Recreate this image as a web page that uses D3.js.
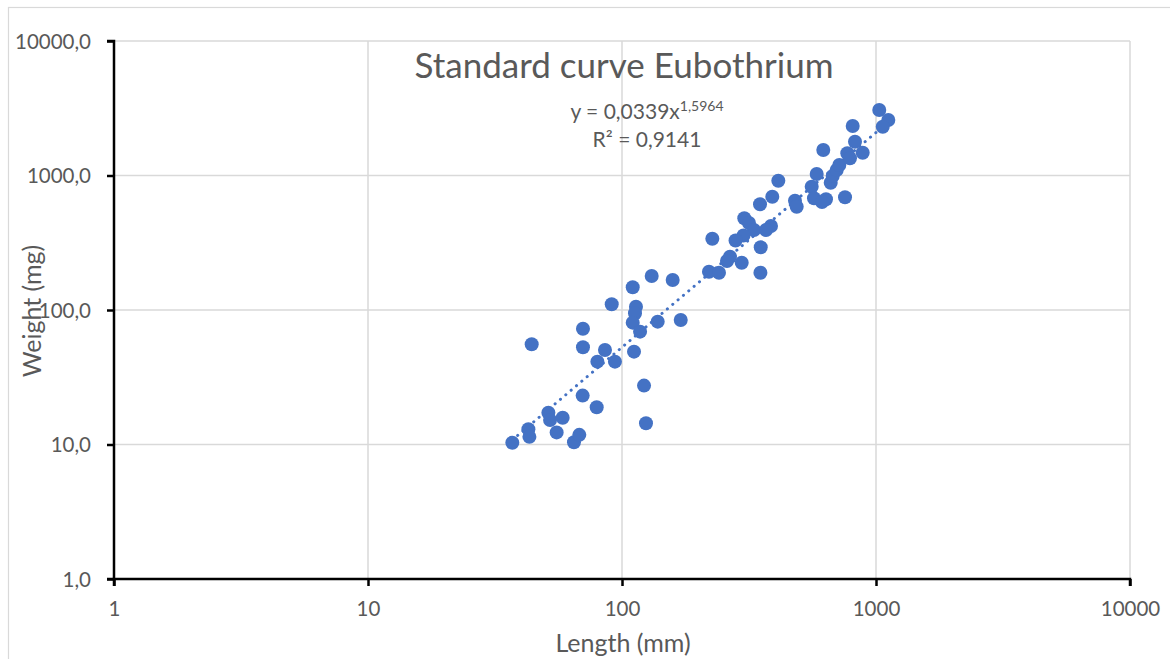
<!DOCTYPE html>
<html>
<head>
<meta charset="utf-8">
<script src="https://cdn.jsdelivr.net/npm/d3@7"></script>
<style>
  html, body { margin: 0; padding: 0; background: #fff; }
  svg { display: block; }
  text { font-family: Lato, "Open Sans", sans-serif; fill: #595959; }
</style>
</head>
<body>
<svg id="chart" width="1170" height="659"></svg>
<script>
// ---- data ----
const lengthMm = [37.0, 42.8, 43.2, 44.1, 51.3, 52.1, 58.4, 55.3, 64.7, 67.9,
  70.0, 70.2, 70.2, 79.5, 80.0, 85.7, 91.1, 93.8, 110.2, 113.5,
  112.5, 110.2, 117.8, 111.5, 122.1, 124.3, 130.9, 138.2, 158.3, 170.3,
  220.0, 240.9, 226.8, 266.2, 296.0, 259.0, 303.0, 316.2, 330.9, 300.9,
  279.9, 349.4, 351.7, 350.7, 386.0, 369.0, 390.6, 412.5, 479.8, 487.3,
  558.3, 570.0, 584.1, 620.1, 635.5, 612.9, 663.3, 675.3, 700.1, 717.1,
  755.1, 770.9, 789.9, 809.6, 826.6, 886.4, 1030, 1118, 1063];
const weightMg = [10.3, 13.0, 11.4, 55.6, 17.2, 15.2, 15.8, 12.3, 10.4, 11.8,
  23.1, 52.8, 72.6, 18.9, 41.3, 50.4, 110.3, 41.3, 147.5, 105.8,
  94.5, 80.5, 69.0, 49.0, 27.4, 14.4, 178.9, 81.9, 167.1, 84.3,
  192.7, 189.4, 338.9, 249.0, 224.7, 231.4, 480.8, 443.6, 393.3, 358.0,
  328.6, 610.8, 292.5, 189.4, 421.2, 393.0, 695.9, 915.0, 649.5, 586.2,
  825.4, 676.9, 1026, 1547, 665.3, 635.3, 884.2, 991.5, 1099, 1197,
  688.5, 1463, 1342, 2334, 1784, 1477, 3069, 2586, 2306];
const xTicks = [1, 10, 100, 1000, 10000];
const yTicks = [1, 10, 100, 1000, 10000];
const yTickLabels = ["1,0", "10,0", "100,0", "1000,0", "10000,0"];
const trendCoef = 0.0339;
const trendExp = 1.5964;
const titleText = "Standard curve Eubothrium";
const xTitle = "Length (mm)";
const yTitle = "Weight (mg)";

// ---- layout ----
const svg = d3.select("#chart");
const pLeft = 114, pRight = 1130, pTop = 41, pBottom = 579;
const x = d3.scaleLog().domain([1, 10000]).range([pLeft, pRight]);
const y = d3.scaleLog().domain([1, 10000]).range([pBottom, pTop]);
const blue = "#4472C4";

// outer chart frame
svg.append("rect").attr("x", 8.5).attr("y", 7.5).attr("width", 1300).attr("height", 800)
  .attr("fill", "none").attr("stroke", "#d9d9d9").attr("stroke-width", 1.2);

// gridlines
svg.append("g").selectAll("line").data(yTicks.slice(1)).join("line")
  .attr("x1", pLeft).attr("x2", pRight)
  .attr("y1", d => y(d)).attr("y2", d => y(d))
  .attr("stroke", "#d9d9d9").attr("stroke-width", 1.5);
svg.append("g").selectAll("line").data(xTicks.slice(1)).join("line")
  .attr("y1", pTop).attr("y2", pBottom)
  .attr("x1", d => x(d)).attr("x2", d => x(d))
  .attr("stroke", "#d9d9d9").attr("stroke-width", 1.5);

// axes
const yAxis = d3.axisLeft(y).tickValues(yTicks).tickSize(7).tickPadding(16)
  .tickFormat((d, i) => yTickLabels[i]);
const gy = svg.append("g").attr("transform", `translate(${pLeft},0)`).call(yAxis);
const xAxis = d3.axisBottom(x).tickValues(xTicks).tickSize(7).tickPadding(15)
  .tickFormat(d3.format("d"));
const gx = svg.append("g").attr("transform", `translate(0,${pBottom})`).call(xAxis);
[gx, gy].forEach(g => {
  g.select(".domain").attr("stroke", "#000").attr("stroke-width", 2.5);
  g.selectAll(".tick line").attr("stroke", "#000").attr("stroke-width", 2.5);
  g.selectAll(".tick text").attr("fill", "#595959")
    .style("font-family", "Lato, 'Open Sans', sans-serif").style("font-size", "20.5px");
});
gy.selectAll(".tick text").attr("dy", "0.35em");
gy.select(".domain").attr("d", `M-7,${pBottom}H0V${pTop}H-7`);
gx.select(".domain").attr("d", `M${pLeft},7V0H${pRight}V7`);

// trendline
const lmin = Math.log(d3.min(lengthMm)), lmax = Math.log(d3.max(lengthMm));
const xs = d3.range(0, 201).map(i => Math.exp(lmin + i / 200 * (lmax - lmin)));
svg.append("path")
  .datum(xs)
  .attr("d", d3.line().x(d => x(d)).y(d => y(trendCoef * Math.pow(d, trendExp))))
  .attr("fill", "none").attr("stroke", blue).attr("stroke-width", 3)
  .attr("stroke-linecap", "round").attr("stroke-dasharray", "0.1 6.9");

// points
svg.append("g").selectAll("circle").data(lengthMm.map((d, i) => [d, weightMg[i]])).join("circle")
  .attr("cx", d => x(d[0])).attr("cy", d => y(d[1])).attr("r", 7)
  .attr("fill", blue);

// title
svg.append("text").attr("x", 624).attr("y", 78).attr("text-anchor", "middle")
  .style("font-size", "35px").text(titleText);

// equation
const eq = svg.append("text").attr("x", 647).attr("y", 119).attr("text-anchor", "middle")
  .style("font-size", "21px");
eq.append("tspan").text("y = 0,0339x");
eq.append("tspan").attr("dy", -8).style("font-size", "14px").text("1,5964");
svg.append("text").attr("x", 647).attr("y", 147).attr("text-anchor", "middle")
  .style("font-size", "21px").text("R² = 0,9141");

// axis titles
svg.append("text").attr("x", 623).attr("y", 652).attr("text-anchor", "middle")
  .style("font-size", "25px").text(xTitle);
svg.append("text").attr("transform", "translate(41,311) rotate(-90)").attr("text-anchor", "middle")
  .style("font-size", "25px").text(yTitle);
</script>
</body>
</html>
